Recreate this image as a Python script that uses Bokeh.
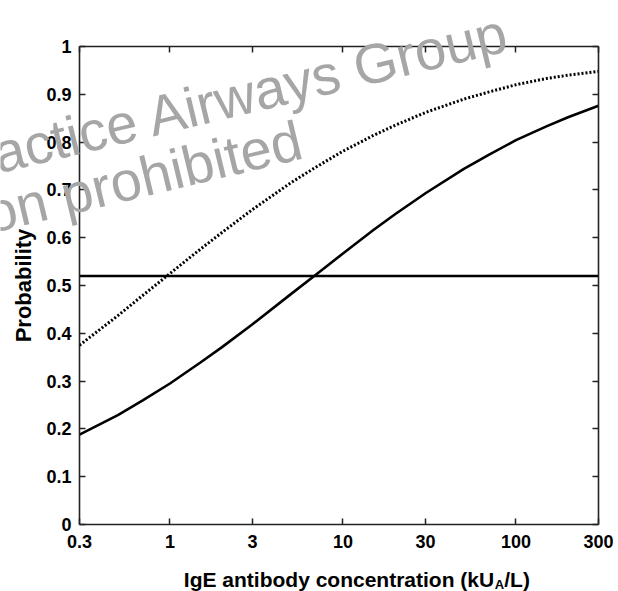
from bokeh.plotting import figure
from bokeh.models import FixedTicker, LinearAxis, LogAxis, Label, Range1d
from bokeh.embed import file_html
from bokeh.resources import INLINE
import math

# ---- data ----
conc = [0.3, 0.5, 0.7, 1, 1.5, 2, 3, 5, 7, 10, 15, 20, 30, 50, 70, 100, 150, 200, 300]
prob_solid = [0.188, 0.229, 0.260, 0.295, 0.339, 0.371, 0.419, 0.482, 0.523, 0.567,
              0.616, 0.649, 0.693, 0.744, 0.774, 0.804, 0.833, 0.852, 0.876]
prob_dotted = [0.375, 0.437, 0.480, 0.525, 0.576, 0.611, 0.659, 0.715, 0.748, 0.781,
               0.814, 0.835, 0.862, 0.890, 0.905, 0.920, 0.933, 0.940, 0.948]
threshold = 0.52
x_ticks = [0.3, 1, 3, 10, 30, 100, 300]
x_tick_labels = ["0.3", "1", "3", "10", "30", "100", "300"]
y_ticks = [0, 0.1, 0.2, 0.3, 0.4, 0.5, 0.6, 0.7, 0.8, 0.9, 1]
y_tick_labels = ["0", "0.1", "0.2", "0.3", "0.4", "0.5", "0.6", "0.7", "0.8", "0.9", "1"]
y_title = "Probability"
x_title_main = "IgE antibody concentration (kU"
x_title_sub = "A"
x_title_end = "/L)"
watermark = ["actice Airways Group", "on prohibited"]

# ---- layout (pixels) ----
W, H = 618, 591
BOX_L, BOX_R, BOX_T, BOX_B = 79, 598, 46, 524
x_lo, x_hi = x_ticks[0], x_ticks[-1]
y_lo, y_hi = y_ticks[0], y_ticks[-1]

# the plot frame covers the whole canvas; the data box sits inside it
lx0, lx1 = math.log10(x_lo), math.log10(x_hi)
ppd = (BOX_R - BOX_L) / (lx1 - lx0)
x_start = 10 ** (lx0 - BOX_L / ppd)
x_end = 10 ** (lx1 + (W - BOX_R) / ppd)
ppu = (BOX_B - BOX_T) / (y_hi - y_lo)
y_start = y_lo - (H - BOX_B) / ppu
y_end = y_hi + BOX_T / ppu

FONT = "Liberation Sans"
AX = "#222222"

p = figure(width=W, height=H, x_axis_type="log",
           x_range=Range1d(x_start, x_end), y_range=Range1d(y_start, y_end),
           x_axis_location=None, y_axis_location=None,
           output_backend="svg", toolbar_location=None, min_border=0)
p.grid.visible = False
p.outline_line_color = None
p.background_fill_color = "white"
p.border_fill_color = "white"
p.title.visible = False


def make_axis(cls, loc, ticks, labels, bounds, show_labels, standoff):
    ax = cls(fixed_location=loc, bounds=bounds)
    ax.ticker = FixedTicker(ticks=ticks, minor_ticks=[])
    ax.major_label_overrides = {t: (l if show_labels else "") for t, l in zip(ticks, labels)}
    ax.major_tick_in = 6
    ax.major_tick_out = 0
    ax.minor_tick_in = 0
    ax.minor_tick_out = 0
    ax.axis_line_color = AX
    ax.axis_line_width = 1.6
    ax.major_tick_line_color = AX
    ax.major_tick_line_width = 1.5
    ax.major_label_text_font = FONT
    ax.major_label_text_font_style = "bold"
    ax.major_label_text_color = "black"
    ax.major_label_standoff = standoff
    ax.major_label_text_font_size = "18px"
    return ax


p.add_layout(make_axis(LogAxis, y_lo, x_ticks, x_tick_labels, (x_lo, x_hi), True, 10), "below")
p.add_layout(make_axis(LogAxis, y_hi, x_ticks, x_tick_labels, (x_lo, x_hi), False, 0), "above")
p.add_layout(make_axis(LinearAxis, x_lo, y_ticks, y_tick_labels, (y_lo, y_hi), True, 8), "left")
p.add_layout(make_axis(LinearAxis, x_hi, y_ticks, y_tick_labels, (y_lo, y_hi), False, 0), "right")

# curves and the horizontal cut-off line
p.line(conc, prob_dotted, line_color="black", line_width=3, line_dash="2 2")
p.line(conc, prob_solid, line_color="black", line_width=2.6)
p.line([x_lo, x_hi], [threshold, threshold], line_color="black", line_width=2.5)

MID = 0.3465  # middle of the font box above the baseline, in em


def lab(text, bx, by, size, angle=0.0, align="left", color="black", style="bold"):
    """Place text so that its baseline point is (bx, by) in page pixels."""
    d = MID * size
    ax_ = bx - d * math.sin(angle)
    ay_ = by - d * math.cos(angle)
    p.add_layout(Label(x=ax_, y=H - ay_, x_units="screen", y_units="screen", text=text,
                       angle=angle, text_align=align, text_baseline="middle",
                       text_font=FONT, text_font_style=style, text_font_size=f"{size}px",
                       text_color=color))


# axis titles
cx = (BOX_L + BOX_R) / 2
main_w = 14.78 * 21          # width of the main part at 21px (Arial-metric bold)
p.add_layout(Label(x=23, y=H - (BOX_T + BOX_B) / 2, x_units="screen", y_units="screen",
                   text=y_title, angle=math.pi / 2, text_align="center", text_baseline="middle",
                   text_font=FONT, text_font_style="bold", text_font_size="22px",
                   text_color="black"))
lab(x_title_main, cx, 586, 21, align="center")
lab(x_title_sub, cx + main_w / 2 + 0.5, 588.5, 13)
lab(x_title_end, cx + main_w / 2 + 0.5 + 9.6, 586, 21)

# watermark
ang = math.radians(13.5)
lab(watermark[0], -2, 173, 56, angle=ang, color="#a6a6a6", style="normal")
lab(watermark[1], -10, 233, 56, angle=ang, color="#a6a6a6", style="normal")

open("out.html", "w").write(file_html(p, INLINE))
